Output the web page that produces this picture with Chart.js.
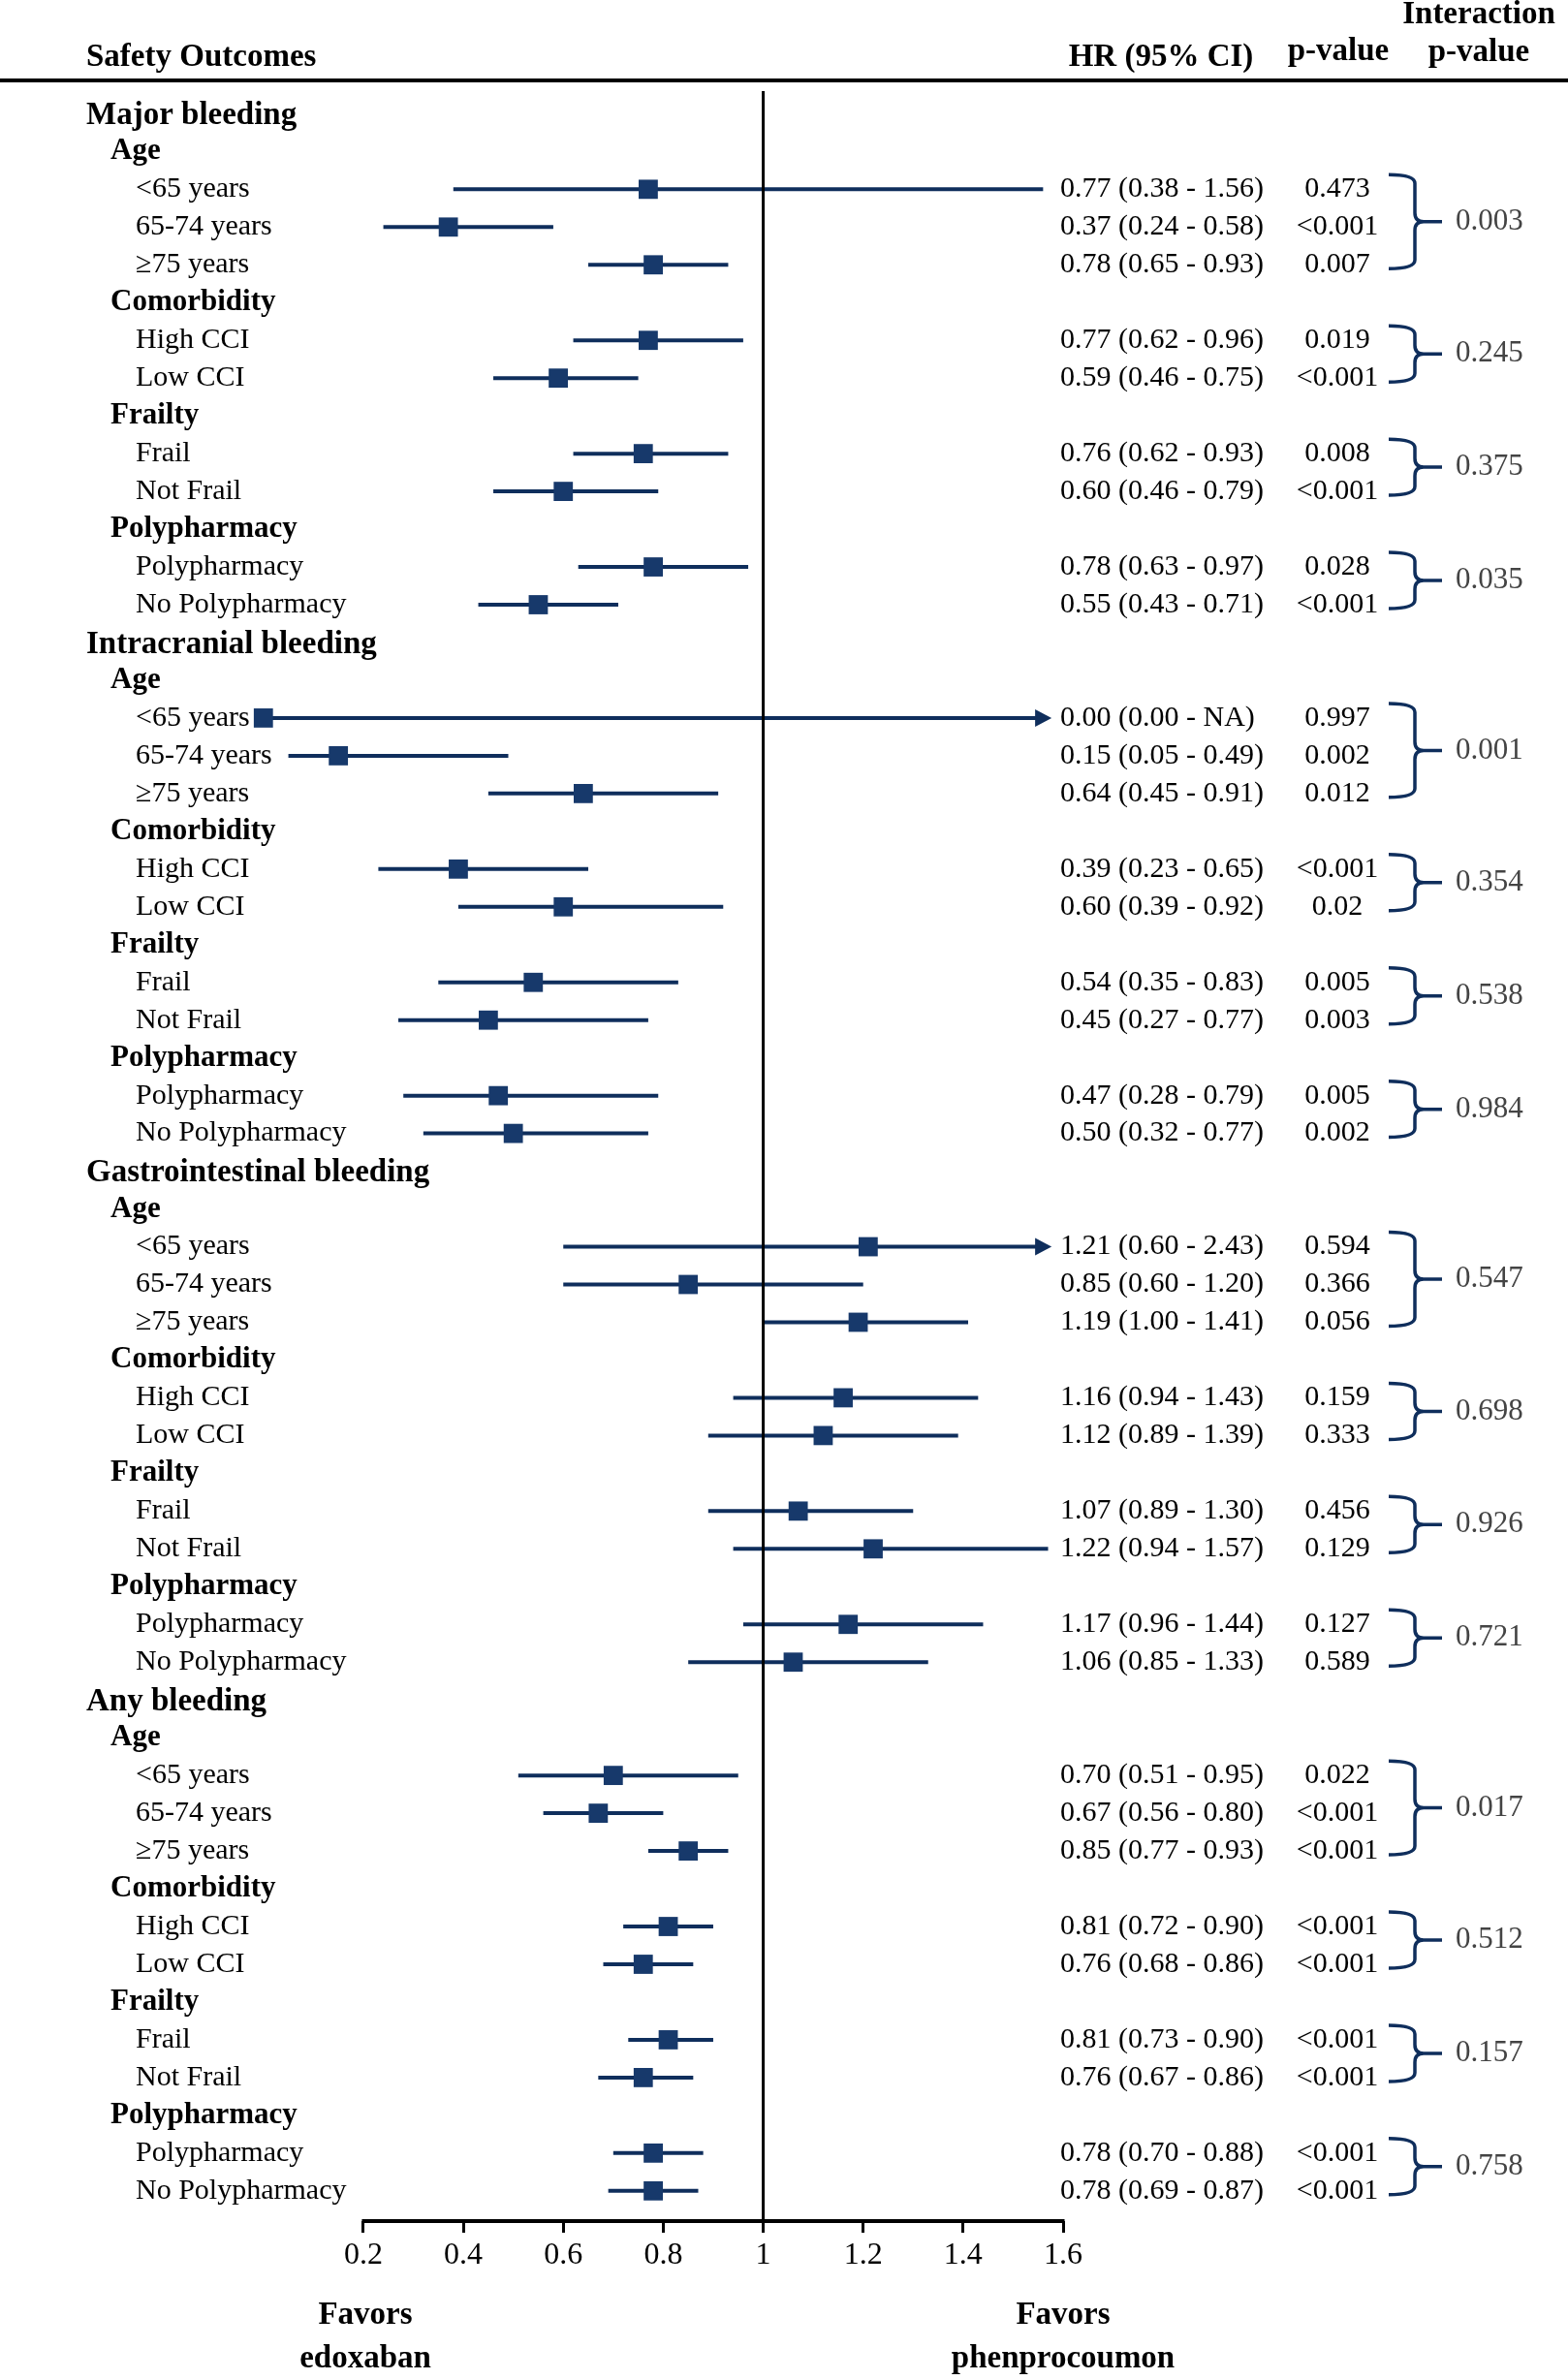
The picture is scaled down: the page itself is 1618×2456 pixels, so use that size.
<!DOCTYPE html>
<html>
<head>
<meta charset="utf-8">
<script src="https://cdn.jsdelivr.net/npm/chart.js@4/dist/chart.umd.min.js"></script>
<style>
  html, body { margin: 0; padding: 0; background: #fff; }
  #wrap { width: 1618px; height: 2456px; }
</style>
</head>
<body>
<div id="wrap"><canvas id="forest" width="1618" height="2456"></canvas></div>
<script>
// ===== DATA =====
const outcomes = ['Major bleeding', 'Intracranial bleeding', 'Gastrointestinal bleeding', 'Any bleeding'];
const subgroups = ['Age', 'Comorbidity', 'Frailty', 'Polypharmacy'];
const subgroupItems = [
    ['<65 years', '65-74 years', '≥75 years'],
    ['High CCI', 'Low CCI'],
    ['Frail', 'Not Frail'],
    ['Polypharmacy', 'No Polypharmacy']
];

// HR, lower and upper CI per outcome (order follows subgroupItems), null = NA
const hrMajor = [0.77, 0.37, 0.78, 0.77, 0.59, 0.76, 0.60, 0.78, 0.55];
const loMajor = [0.38, 0.24, 0.65, 0.62, 0.46, 0.62, 0.46, 0.63, 0.43];
const hiMajor = [1.56, 0.58, 0.93, 0.96, 0.75, 0.93, 0.79, 0.97, 0.71];
const pMajor = ['0.473', '<0.001', '0.007', '0.019', '<0.001', '0.008', '<0.001', '0.028', '<0.001'];
const intMajor = ['0.003', '0.245', '0.375', '0.035'];

const hrIcb = [0.00, 0.15, 0.64, 0.39, 0.60, 0.54, 0.45, 0.47, 0.50];
const loIcb = [0.00, 0.05, 0.45, 0.23, 0.39, 0.35, 0.27, 0.28, 0.32];
const hiIcb = [null, 0.49, 0.91, 0.65, 0.92, 0.83, 0.77, 0.79, 0.77];
const pIcb = ['0.997', '0.002', '0.012', '<0.001', '0.02', '0.005', '0.003', '0.005', '0.002'];
const intIcb = ['0.001', '0.354', '0.538', '0.984'];

const hrGi = [1.21, 0.85, 1.19, 1.16, 1.12, 1.07, 1.22, 1.17, 1.06];
const loGi = [0.60, 0.60, 1.00, 0.94, 0.89, 0.89, 0.94, 0.96, 0.85];
const hiGi = [2.43, 1.20, 1.41, 1.43, 1.39, 1.30, 1.57, 1.44, 1.33];
const pGi = ['0.594', '0.366', '0.056', '0.159', '0.333', '0.456', '0.129', '0.127', '0.589'];
const intGi = ['0.547', '0.698', '0.926', '0.721'];

const hrAny = [0.70, 0.67, 0.85, 0.81, 0.76, 0.81, 0.76, 0.78, 0.78];
const loAny = [0.51, 0.56, 0.77, 0.72, 0.68, 0.73, 0.67, 0.70, 0.69];
const hiAny = [0.95, 0.80, 0.93, 0.90, 0.86, 0.90, 0.86, 0.88, 0.87];
const pAny = ['0.022', '<0.001', '<0.001', '<0.001', '<0.001', '<0.001', '<0.001', '<0.001', '<0.001'];
const intAny = ['0.017', '0.512', '0.157', '0.758'];

const xTicks = [0.2, 0.4, 0.6, 0.8, 1, 1.2, 1.4, 1.6];

// ===== BUILD ROWS =====
const series = [
    { hr: hrMajor, lo: loMajor, hi: hiMajor, p: pMajor, inter: intMajor },
    { hr: hrIcb, lo: loIcb, hi: hiIcb, p: pIcb, inter: intIcb },
    { hr: hrGi, lo: loGi, hi: hiGi, p: pGi, inter: intGi },
    { hr: hrAny, lo: loAny, hi: hiAny, p: pAny, inter: intAny }
];

const rows = [];      // {label, level, hr, lo, hi, p}
const groups = [];    // {first, last, p}
outcomes.forEach((name, o) => {
    rows.push({ label: name, level: 0 });
    let k = 0;
    subgroups.forEach((sg, g) => {
        rows.push({ label: sg, level: 1 });
        const first = rows.length;
        subgroupItems[g].forEach(item => {
            const s = series[o];
            rows.push({ label: item, level: 2, hr: s.hr[k], lo: s.lo[k], hi: s.hi[k], p: s.p[k] });
            k++;
        });
        groups.push({ first, last: rows.length - 1, p: series[o].inter[g] });
    });
});

const fmt = v => v === null ? 'NA' : v.toFixed(2);

// ===== STYLE =====
const SERIF = '"Liberation Serif", "Times New Roman", serif';
const navy = '#0f2e5c';
const squareCol = '#17396b';
const X_MAX_DRAW = 1.577;

// ===== PLUGINS =====
const ciPlugin = {
    id: 'ciLines',
    beforeDatasetsDraw(chart) {
        const { ctx, chartArea } = chart;
        const xs = chart.scales.x, ys = chart.scales.y;
        ctx.save();
        ctx.strokeStyle = navy;
        ctx.fillStyle = navy;
        ctx.lineWidth = 4;
        rows.forEach((r, i) => {
            if (r.level !== 2) return;
            const y = ys.getPixelForValue(i);
            const arrow = r.hi === null || r.hi > 1.6;
            const hiV = arrow ? X_MAX_DRAW : r.hi;
            const x1 = xs.getPixelForValue(r.lo);
            const x2 = xs.getPixelForValue(hiV);
            ctx.beginPath();
            ctx.moveTo(x1, y);
            ctx.lineTo(arrow ? x2 - 10 : x2, y);
            ctx.stroke();
            if (arrow) {
                ctx.beginPath();
                ctx.moveTo(x2, y);
                ctx.lineTo(x2 - 17, y - 9);
                ctx.lineTo(x2 - 17, y + 9);
                ctx.closePath();
                ctx.fill();
            }
        });
        // reference line at HR = 1
        const xr = xs.getPixelForValue(1);
        ctx.strokeStyle = '#000';
        ctx.lineWidth = 3;
        ctx.beginPath();
        ctx.moveTo(xr, chartArea.top);
        ctx.lineTo(xr, chartArea.bottom);
        ctx.stroke();
        // axis line only across the tick range
        ctx.lineWidth = 4;
        ctx.beginPath();
        ctx.moveTo(xs.getPixelForValue(xTicks[0]) - 1.5, chartArea.bottom);
        ctx.lineTo(xs.getPixelForValue(xTicks[xTicks.length - 1]) + 1.5, chartArea.bottom);
        ctx.stroke();
        ctx.restore();
    }
};

function drawBrace(ctx, yTop, yBot) {
    const x0 = 1433, xv = 1460, xt = 1488, r = 9;
    const ym = (yTop + yBot) / 2;
    ctx.beginPath();
    ctx.moveTo(x0, yTop);
    ctx.quadraticCurveTo(xv, yTop, xv, yTop + r);
    ctx.lineTo(xv, ym - r);
    ctx.quadraticCurveTo(xv, ym, xv + r, ym);
    ctx.lineTo(xt, ym);
    ctx.moveTo(x0, yBot);
    ctx.quadraticCurveTo(xv, yBot, xv, yBot - r);
    ctx.lineTo(xv, ym + r);
    ctx.quadraticCurveTo(xv, ym, xv + r, ym);
    ctx.stroke();
    return ym;
}

const textPlugin = {
    id: 'tableText',
    afterDraw(chart) {
        const { ctx } = chart;
        const ys = chart.scales.y;
        ctx.save();
        ctx.textBaseline = 'middle';
        ctx.fillStyle = '#000';

        // header
        ctx.font = 'bold 33px ' + SERIF;
        ctx.textAlign = 'left';
        ctx.fillText('Safety Outcomes', 89, 59);
        ctx.textAlign = 'center';
        ctx.fillText('HR (95% CI)', 1198, 59);
        ctx.fillText('p-value', 1381, 53);
        ctx.fillText('Interaction', 1526, 15);
        ctx.fillText('p-value', 1526, 54);
        ctx.fillRect(0, 81, 1618, 4);

        // rows
        rows.forEach((r, i) => {
            const y = ys.getPixelForValue(i);
            ctx.textAlign = 'left';
            if (r.level === 0) {
                ctx.font = 'bold 33px ' + SERIF;
                ctx.fillText(r.label, 89, y + 2);
            } else if (r.level === 1) {
                ctx.font = 'bold 31px ' + SERIF;
                ctx.fillText(r.label, 114, y);
            } else {
                ctx.font = '30px ' + SERIF;
                ctx.fillText(r.label, 140, y);
                ctx.fillText(`${fmt(r.hr)} (${fmt(r.lo)} - ${fmt(r.hi)})`, 1094, y);
                ctx.textAlign = 'center';
                ctx.fillText(r.p, 1380, y);
            }
        });

        // interaction braces
        ctx.strokeStyle = navy;
        ctx.lineWidth = 3.5;
        groups.forEach(g => {
            const yTop = ys.getPixelForValue(g.first) - 15;
            const yBot = ys.getPixelForValue(g.last) + 4;
            const ym = drawBrace(ctx, yTop, yBot);
            ctx.fillStyle = '#444';
            ctx.font = '31px ' + SERIF;
            ctx.textAlign = 'left';
            ctx.fillText(g.p, 1502, ym);
        });

        // favors labels
        ctx.fillStyle = '#000';
        ctx.font = 'bold 33px ' + SERIF;
        ctx.textAlign = 'center';
        ctx.fillText('Favors', 377, 2389);
        ctx.fillText('edoxaban', 377, 2434);
        ctx.fillText('Favors', 1097, 2389);
        ctx.fillText('phenprocoumon', 1097, 2434);
        ctx.restore();
    }
};

// ===== CHART =====
const points = [];
rows.forEach((r, i) => { if (r.level === 2) points.push({ x: r.hr, y: i }); });

new Chart(document.getElementById('forest'), {
    type: 'scatter',
    data: {
        datasets: [{
            data: points,
            pointStyle: 'rect',
            pointRadius: 14,
            pointHoverRadius: 14,
            backgroundColor: squareCol,
            borderColor: squareCol,
            borderWidth: 0,
            clip: false
        }]
    },
    options: {
        responsive: false,
        devicePixelRatio: 1,
        animation: false,
        events: [],
        // x range starts below 0 so the HR = 0.00 square sits inside the chart area
        layout: { padding: { left: 246, right: 521, top: 94, bottom: 104 } },
        plugins: { legend: { display: false }, tooltip: { enabled: false } },
        scales: {
            x: {
                type: 'linear', min: -0.05, max: 1.6,
                afterBuildTicks: s => { s.ticks = xTicks.map(v => ({ value: v })); },
                afterFit: s => { s.height = 60; },
                grid: { display: true, drawOnChartArea: false, drawTicks: true, tickLength: 12, tickWidth: 3, tickColor: '#000' },
                border: { display: false },
                ticks: {
                    color: '#000', padding: 4, maxRotation: 0, autoSkip: false,
                    font: { family: SERIF, size: 32 },
                    callback: v => String(+v.toFixed(1))
                }
            },
            y: { type: 'linear', reverse: true, min: -0.6, max: 55.8, display: false }
        }
    },
    plugins: [ciPlugin, textPlugin]
});
</script>
</body>
</html>
